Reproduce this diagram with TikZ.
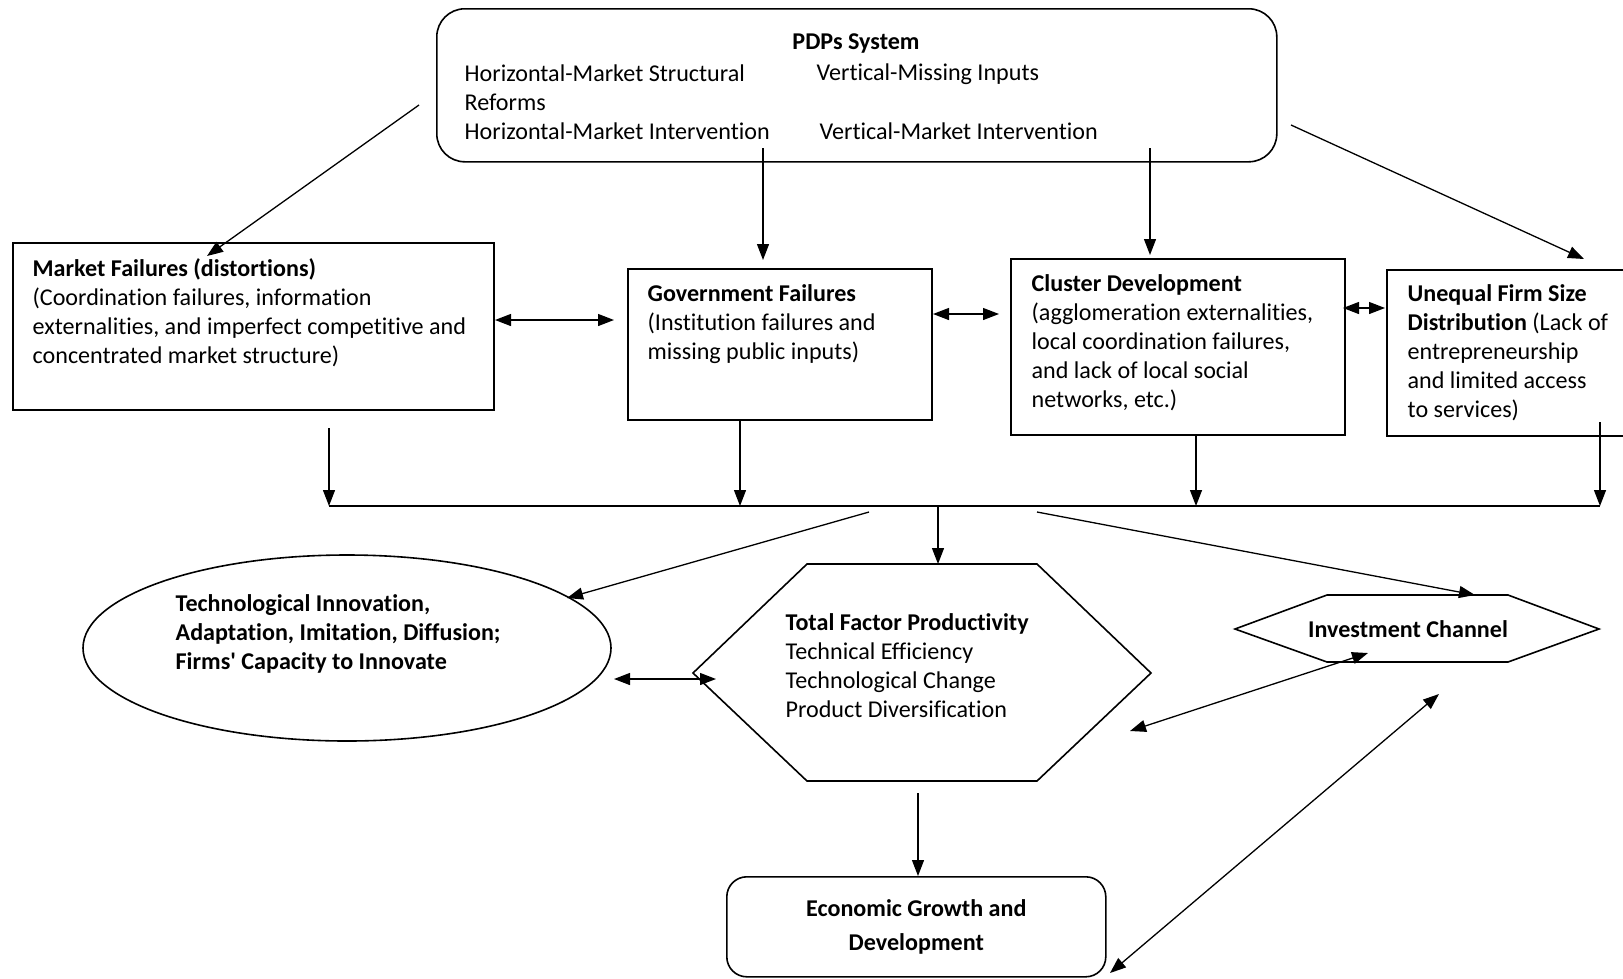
\documentclass[tikz,border=0pt]{standalone}
\usepackage{fontspec}
\setmainfont{Carlito}[Ligatures=NoCommon]
\usetikzlibrary{arrows.meta,shapes.geometric}

\begin{document}
\begin{tikzpicture}[x=1pt,y=-1pt,line width=1.3pt,
  font=\fontsize{24.1}{29}\selectfont,
  box/.style={draw,line width=1.6pt,inner sep=0pt,anchor=north west},
  txt/.style={inner sep=0pt,anchor=base west,align=left},
  tip/.style={-{Triangle[length=16pt,width=12pt]}},
  tips/.style={{Triangle[length=16pt,width=12pt]}-{Triangle[length=16pt,width=12pt]}}]
\useasboundingbox (0,0) rectangle (1623,978);

% policy box (text nodes sit on the baseline of their last line)
\node[box,rounded corners=28pt,minimum width=840pt,minimum height=153pt] (pdp) at (436,8) {};
\node[txt,anchor=base] (pdpt) at (856,49) {\textbf{PDPs System}};
\node[txt] (hor) at (464,139) {Horizontal-Market Structural\\Reforms\\Horizontal-Market Intervention};
\node[txt] (ver) at (816,80) {Vertical-Missing Inputs};
\node[txt] (verm) at (819,139) {Vertical-Market Intervention};

% failures
\node[box,minimum width=481pt,minimum height=167pt] (mf) at (12,242) {};
\node[txt] (mft) at (32,363) {\textbf{Market Failures (distortions)}\\(Coordination failures, information\\externalities, and imperfect competitive and\\concentrated market structure)};
\node[box,minimum width=304pt,minimum height=151pt] (gf) at (627,268) {};
\node[txt] (gft) at (647,359) {\textbf{Government Failures}\\(Institution failures and\\missing public inputs)};
\node[box,minimum width=334pt,minimum height=176pt] (cd) at (1010,258) {};
\node[txt] (cdt) at (1031,407) {\textbf{Cluster Development}\\(agglomeration externalities,\\local coordination failures,\\and lack of local social\\networks, etc.)};
\node[box,minimum width=260pt,minimum height=166pt] (uf) at (1386,269) {};
\node[txt] (uft) at (1407,417) {\textbf{Unequal Firm Size}\\\textbf{Distribution} (Lack of\\entrepreneurship\\and limited access\\to services)};

% outcomes
\node[draw,ellipse,line width=1.6pt,minimum width=528pt,minimum height=186pt] (ell) at (347,648) {};
\node[txt] (ellt) at (175,669) {\textbf{Technological Innovation,}\\\textbf{Adaptation, Imitation, Diffusion;}\\\textbf{Firms\textquotesingle{} Capacity to Innovate}};
\draw[line width=1.6pt] (807,564) -- (1037,564) -- (1151,673) -- (1037,781) -- (807,781) -- (693,673) -- cycle;
\node[txt] (tfp) at (785,717) {\textbf{Total Factor Productivity}\\Technical Efficiency\\Technological Change\\Product Diversification};
\draw[line width=1.6pt] (1327,595) -- (1508,595) -- (1599,629) -- (1508,662) -- (1327,662) -- (1235,629) -- cycle;
\node[txt,anchor=base] (inv) at (1408,637) {\textbf{Investment Channel}};
\node[box,rounded corners=20pt,minimum width=379pt,minimum height=100pt,align=center] (eg) at (726,876) {\textbf{Economic Growth and}\\[5pt]\textbf{Development}};

% connector ends
\coordinate (pdpa) at (419,105);  \coordinate (mfa) at (207,256);
\coordinate (pdpb) at (763,148);  \coordinate (gfa) at (763,260);
\coordinate (pdpc) at (1150,148); \coordinate (cda) at (1150,255);
\coordinate (pdpd) at (1291,125); \coordinate (ufa) at (1584,259);
\coordinate (busl) at (329,506);  \coordinate (busr) at (1600,506);

% arrows
\draw[tip] (pdpa) -- (mfa);
\draw[tip] (pdpb) -- (gfa);
\draw[tip] (pdpc) -- (cda);
\draw[tip] (pdpd) -- (ufa);
\draw[tips] (495,320) -- (614,320);
\draw[tips] (933,314) -- (999,314);
\draw[tips] (1343,308) -- (1385,308);
\foreach \x/\y in {329/428, 740/419, 1196/434, 1600/422}
  \draw[tip] (\x,\y) -- (\x,506);
\draw (busl) -- (busr);
\draw[tip] (938,506) -- (938,564);
\draw[tip] (869,512) -- (567,598);
\draw[tip] (1037,512) -- (1475,595);
\draw[tips] (614,679) -- (716,679);
\draw[tips] (1130,731) -- (1368,653);
\draw[tips] (1110,973) -- (1439,694);
\draw[tip] (918,793) -- (eg.north -| 918,0);
\end{tikzpicture}
\end{document}
